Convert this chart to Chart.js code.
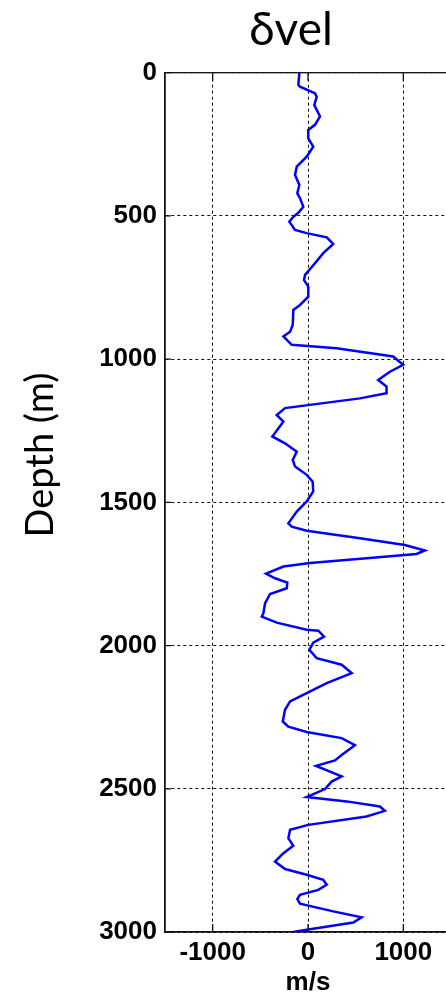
<!DOCTYPE html>
<html>
<head>
<meta charset="utf-8">
<script src="https://cdn.jsdelivr.net/npm/chart.js@4"></script>
<style>
  html, body { margin: 0; padding: 0; background: #fff; overflow: hidden; }
  canvas { display: block; }
</style>
</head>
<body>
<canvas id="velGraph" width="582" height="998"></canvas>
<script>
// depth (m) and velocity perturbation (m/s)
const depths = [0, 43, 49, 72, 84, 113, 153, 182, 200, 229, 258, 293, 328, 357, 392, 421, 438, 468, 489, 503,
  520, 549, 560, 575, 598, 630, 665, 706, 724, 747, 782, 811, 828, 881, 904, 921, 950, 962, 991, 1020,
  1044, 1073, 1096, 1119, 1137, 1171, 1195, 1218, 1270, 1294, 1323, 1352, 1375, 1404, 1428, 1462, 1497, 1532, 1573, 1585,
  1599, 1625, 1649, 1668, 1680, 1695, 1712, 1724, 1749, 1765, 1780, 1800, 1820, 1852, 1887, 1899, 1920, 1945, 1948, 1969,
  1990, 2015, 2044, 2067, 2096, 2131, 2166, 2195, 2224, 2265, 2283, 2302, 2323, 2348, 2382, 2401, 2420, 2457, 2475, 2501,
  2529, 2544, 2562, 2577, 2597, 2626, 2643, 2673, 2699, 2725, 2754, 2780, 2800, 2818, 2835, 2853, 2870, 2885, 2901, 2928,
  2949, 2967, 2992, 3000];
const dvel = [-91, -101, -84, 73, 91, 66, 126, 73, 3, 3, 55, -14, -118, -136, -91, -112, -84, -49, -101, -154,
  -196, -136, -14, 196, 265, 160, 73, -31, -42, 3, 3, -84, -154, -160, -188, -258, -171, 300, 893, 998,
  859, 736, 824, 824, 545, -241, -328, -258, -374, -241, -118, -160, -136, -14, 49, 55, -14, -118, -206, -171,
  -14, 545, 1016, 1225, 1138, 614, 21, -258, -440, -346, -217, -223, -398, -450, -468, -485, -328, -14, 108, 168,
  55, 14, 91, 353, 458, 196, -14, -188, -241, -265, -206, -14, 353, 492, 353, 283, 84, 353, 248, 178,
  -14, 405, 754, 806, 614, 3, -188, -206, -154, -258, -346, -241, -14, 160, 196, 108, -84, -112, -84, 265,
  562, 475, -14, -154];

const xTicks = [-1000, 0, 1000];
const yTicks = [0, 500, 1000, 1500, 2000, 2500, 3000];
const xRange = [-1500, 1500];
const yRange = [0, 3000];

const tickFont = { family: "'Liberation Sans', Arial, sans-serif", size: 26, weight: 'bold' };

// rammer, indadvendte tick-mærker og y-aksens titel
const framePlugin = {
  id: 'frame',
  afterDraw(chart) {
    const { ctx, chartArea: a, scales } = chart;
    ctx.save();
    ctx.strokeStyle = '#111';
    ctx.lineWidth = 1.3;
    ctx.setLineDash([]);
    ctx.strokeRect(a.left, a.top, a.right - a.left, a.bottom - a.top);
    ctx.beginPath();
    xTicks.forEach(v => {
      const px = scales.x.getPixelForValue(v);
      ctx.moveTo(px, a.bottom); ctx.lineTo(px, a.bottom - 8);
      ctx.moveTo(px, a.top); ctx.lineTo(px, a.top + 8);
    });
    yTicks.forEach(v => {
      const py = scales.y.getPixelForValue(v);
      ctx.moveTo(a.left, py); ctx.lineTo(a.left + 6, py);
    });
    ctx.stroke();

    ctx.translate(41, 455);
    ctx.rotate(-Math.PI / 2);
    ctx.fillStyle = '#000';
    ctx.font = "38px Lato, 'Open Sans', sans-serif";
    ctx.textAlign = 'center';
    ctx.textBaseline = 'middle';
    ctx.fillText('Depth (m)', 0, 0);
    ctx.restore();
  }
};

const ctx = document.getElementById('velGraph').getContext('2d');
new Chart(ctx, {
  type: 'scatter',
  data: {
    datasets: [{
      data: depths.map((d, i) => ({ x: dvel[i], y: d })),
      showLine: true,
      borderColor: '#0000ff',
      borderWidth: 2.5,
      pointRadius: 0,
      tension: 0
    }]
  },
  options: {
    responsive: false,
    animation: false,
    devicePixelRatio: 1,
    layout: { padding: 0 },
    plugins: {
      legend: { display: false },
      tooltip: { enabled: false },
      title: {
        display: true,
        text: 'δvel',
        color: '#000',
        font: { family: "Lato, 'Open Sans', sans-serif", size: 46, weight: 'normal', lineHeight: 1.2 },
        padding: { top: 3, bottom: 14.5 }
      }
    },
    scales: {
      x: {
        type: 'linear',
        min: xRange[0],
        max: xRange[1],
        afterBuildTicks: s => { s.ticks = xTicks.map(v => ({ value: v })); },
        afterFit: s => { s.height = 66; },
        grid: { color: '#111', lineWidth: 1, drawTicks: false },
        border: { display: true, color: '#111', width: 1.3, dash: [3, 3] },
        ticks: { color: '#000', font: tickFont, padding: 5, maxRotation: 0, callback: v => String(v) },
        title: { display: true, text: 'm/s', color: '#000', font: tickFont, padding: { top: 0, bottom: 0 } }
      },
      y: {
        type: 'linear',
        reverse: true,
        min: yRange[0],
        max: yRange[1],
        afterBuildTicks: s => { s.ticks = yTicks.map(v => ({ value: v })); },
        afterFit: s => { s.width = 165; },
        grid: { color: '#111', lineWidth: 1, drawTicks: false },
        border: { display: true, color: '#111', width: 1.3, dash: [3, 3] },
        ticks: { color: '#000', font: tickFont, padding: 8, callback: v => String(v) }
      },
      // tom akse til højre, så plottet fortsætter ud over billedkanten
      yRight: {
        type: 'linear',
        position: 'right',
        display: true,
        afterFit: s => { s.width = 131; },
        grid: { display: false, drawTicks: false },
        border: { display: false },
        ticks: { display: false }
      }
    }
  },
  plugins: [framePlugin]
});
</script>
</body>
</html>
